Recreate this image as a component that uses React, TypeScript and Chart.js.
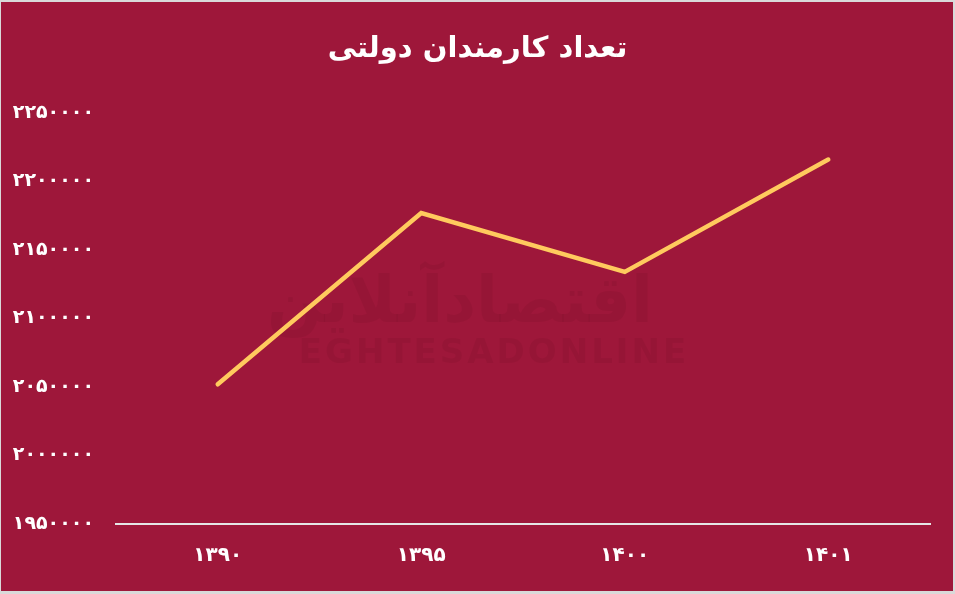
import React, { useEffect, useRef } from "react";
import { Chart, registerables } from "chart.js";

Chart.register(...registerables);

const categories = ["۱۳۹۰", "۱۳۹۵", "۱۴۰۰", "۱۴۰۱"];
const employees = [2052000, 2177000, 2134000, 2216000];
const yMin = 1950000;
const yMax = 2250000;
const yStep = 50000;
const chartTitle = "تعداد کارمندان دولتی";

const faDigits = "۰۱۲۳۴۵۶۷۸۹";
const toFa = (v: number | string) => String(v).replace(/[0-9]/g, (d) => faDigits[Number(d)]);

const FONT = "'DejaVu Sans', sans-serif";

const watermark = {
  id: "watermark",
  beforeDatasetsDraw(chart: any) {
    const ctx = chart.ctx;
    ctx.save();
    ctx.fillStyle = "rgba(60,0,20,0.07)";
    ctx.textAlign = "center";
    ctx.textBaseline = "middle";
    ctx.font = "bold 64px " + FONT;
    ctx.fillText("اقتصادآنلاین", 460, 305);
    ctx.font = "bold 34px " + FONT;
    try { (ctx as any).letterSpacing = "3px"; } catch (e) {}
    ctx.fillText("EGHTESADONLINE", 494, 354);
    ctx.restore();
  },
};

const centeredTitle = {
  id: "centeredTitle",
  afterDraw(chart: any) {
    const ctx = chart.ctx;
    ctx.save();
    ctx.fillStyle = "#ffffff";
    ctx.textAlign = "center";
    ctx.textBaseline = "middle";
    ctx.font = "bold 29px " + FONT;
    ctx.fillText(chartTitle, chart.width / 2, 49);
    ctx.restore();
  },
};

export default function App() {
  const ref = useRef<HTMLCanvasElement>(null);
  useEffect(() => {
    if (!ref.current) return;
    const chart = new Chart(ref.current, {
      type: "line",
      data: {
        labels: categories,
        datasets: [
          {
            data: employees,
            borderColor: "#FFCA5E",
            borderWidth: 4.5,
            pointRadius: 0,
            borderCapStyle: "round",
            borderJoinStyle: "miter",
            tension: 0,
          },
        ],
      },
      options: {
        responsive: false,
        animation: false,
        devicePixelRatio: 1,
        layout: { padding: { left: 8, right: 25, top: 113, bottom: 6 } },
        plugins: {
          legend: { display: false },
          tooltip: { enabled: false },
          title: { display: false },
        },
        scales: {
          x: {
            offset: true,
            grid: { display: false, drawTicks: false },
            border: { display: true, color: "#E6E6E6", width: 2 },
            ticks: {
              color: "#ffffff",
              padding: 20,
              font: { family: FONT, size: 20, weight: "bold", lineHeight: 1.2 },
              maxRotation: 0,
            },
          },
          y: {
            min: yMin,
            max: yMax,
            grid: { display: false, drawTicks: false },
            border: { display: false },
            afterFit: (scale: any) => {
              scale.width = 108;
            },
            ticks: {
              stepSize: yStep,
              color: "#ffffff",
              padding: 22,
              font: { family: FONT, size: 19, weight: "bold", lineHeight: 1.2 },
              callback: (v: any) => toFa(v),
            },
          },
        },
      },
      plugins: [watermark, centeredTitle],
    });
    return () => chart.destroy();
  }, []);

  return (
    <div style={{ position: "absolute", left: 0, top: 0, width: 955, height: 594, background: "#D9D9D9" }}>
      <div style={{ position: "absolute", left: 1, top: 2, right: 2, bottom: 3, background: "#9E173A" }} />
      <canvas ref={ref} width={955} height={594} style={{ position: "absolute", left: 0, top: 0, width: 955, height: 594 }} />
    </div>
  );
}
